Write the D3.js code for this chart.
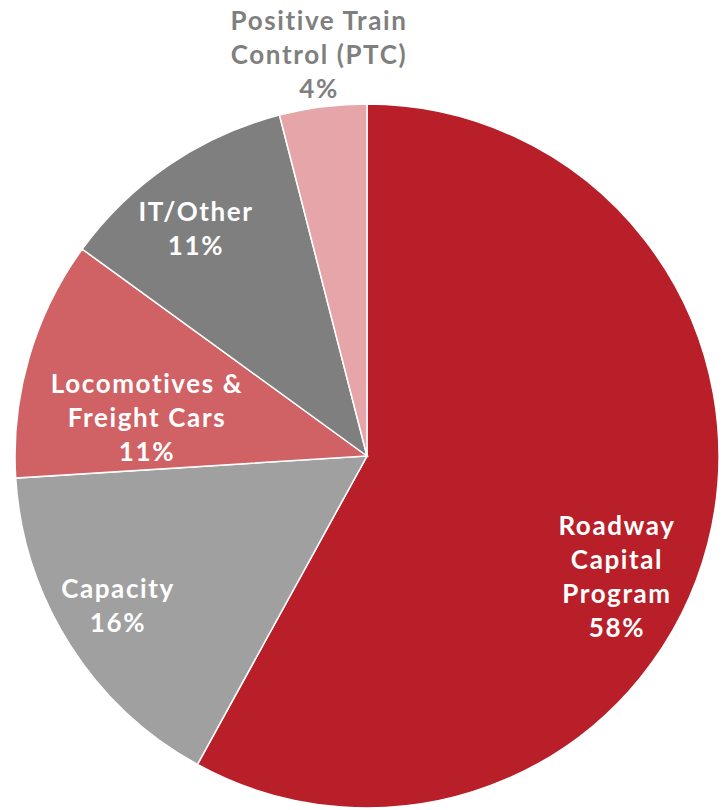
<!DOCTYPE html>
<html>
<head>
<meta charset="utf-8">
<script src="https://cdn.jsdelivr.net/npm/d3@7"></script>
<style>
  body { margin: 0; background: #fff; }
  svg text { font-family: "Lato", "DejaVu Sans", sans-serif; font-weight: 700; letter-spacing: 1.6px; }
</style>
</head>
<body>
<svg id="chart" width="723" height="810"></svg>
<script>
// slice data, clockwise from 12 o'clock
var categories = ["Roadway Capital Program", "Capacity", "Locomotives & Freight Cars", "IT/Other", "Positive Train Control (PTC)"];
var shares = [58, 16, 11, 11, 4];
var labelLines = [
  ["Roadway", "Capital", "Program", "58%"],
  ["Capacity", "16%"],
  ["Locomotives &", "Freight Cars", "11%"],
  ["IT/Other", "11%"],
  ["Positive Train", "Control (PTC)", "4%"]
];
var colors = ["#B91F28", "#A0A0A0", "#D06165", "#7F7F7F", "#E6A5A8"];
var textColors = ["#fff", "#fff", "#fff", "#fff", "#7F7F7F"];

var width = 723, height = 810;
var cx = 367, cy = 456, radius = 352;

// label centre x and first baseline y
var labelAt = [[617, 535], [118, 598], [147, 393], [196, 221], [319, 30]];
var lineH = 34;

var svg = d3.select("#chart");
var g = svg.append("g").attr("transform", "translate(" + cx + "," + cy + ")");

var pie = d3.pie().sort(null).value(function(d){ return d; });
var arc = d3.arc().innerRadius(0).outerRadius(radius);

g.selectAll("path")
  .data(pie(shares))
  .enter()
  .append("path")
  .attr("d", arc)
  .attr("fill", function(d, i){ return colors[i]; })
  .attr("stroke", "#fff")
  .attr("stroke-width", 1.5);

var labels = svg.selectAll("text.lbl")
  .data(labelLines)
  .enter()
  .append("text")
  .attr("class", "lbl")
  .attr("text-anchor", "middle")
  .attr("font-size", 26)
  .attr("fill", function(d, i){ return textColors[i]; });

labels.each(function(lines, i){
  var t = d3.select(this);
  lines.forEach(function(s, k){
    t.append("tspan")
      .attr("x", labelAt[i][0])
      .attr("y", labelAt[i][1] + k * lineH)
      .text(s);
  });
});
</script>
</body>
</html>
